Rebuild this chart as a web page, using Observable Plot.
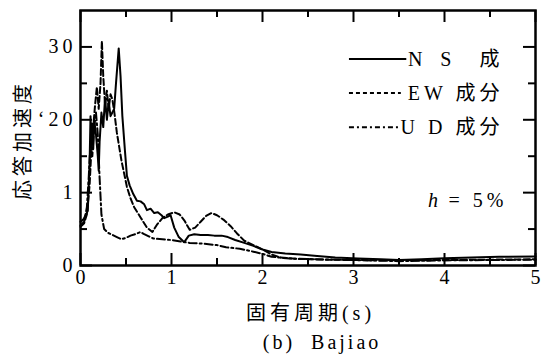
<!DOCTYPE html>
<html><head><meta charset="utf-8">
<script src="https://cdn.jsdelivr.net/npm/d3@7"></script>
<script src="https://cdn.jsdelivr.net/npm/@observablehq/plot@0.6"></script>
<style>
body{margin:0;background:#fff}
</style>
</head><body><div id="chart"></div>
<script>
// NS component
const nsT = [0,0.03,0.06,0.08,0.1,0.11,0.12,0.13,0.14,0.15,0.17,0.19,0.2,0.21,0.23,0.25,0.27,0.29,0.31,0.33,0.35,0.37,0.39,0.42,0.44,0.46,0.49,0.51,0.54,0.58,0.62,0.66,0.7,0.73,0.77,0.81,0.85,0.89,0.92,0.96,0.99,1.03,1.08,1.14,1.19,1.25,1.32,1.4,1.47,1.55,1.62,1.7,1.8,1.9,2.0,2.1,2.25,2.42,2.6,2.8,3.05,3.3,3.5,3.75,4.0,4.3,4.6,5.0];
const nsA = [6.0,6.3,7.0,7.5,14,20.5,17,19.5,16,20,18,15,13,17,21,19,23,20,22.5,20.5,21,21.5,25,29.8,26,20.5,15.5,12.3,11,9.8,8.9,8.8,8.4,7.6,7.8,7.2,7.3,6.9,6.5,6.7,6.9,5.2,3.9,3.2,4.1,4.3,4.2,4.2,4.1,4.1,3.9,3.5,3.1,2.7,2.2,1.85,1.65,1.5,1.3,1.1,0.95,0.85,0.75,0.85,1.0,1.1,1.2,1.25];
// EW component
const ewT = [0,0.04,0.07,0.1,0.12,0.14,0.16,0.18,0.2,0.22,0.235,0.25,0.27,0.29,0.31,0.33,0.35,0.37,0.4,0.45,0.51,0.55,0.59,0.66,0.73,0.79,0.84,0.9,0.96,1.03,1.09,1.14,1.2,1.26,1.32,1.38,1.44,1.5,1.57,1.65,1.72,1.8,1.9,2.0,2.1,2.2,2.4,2.7,3.0,3.5,4.0,4.5,5.0];
const ewA = [5.3,5.8,7.0,11,16,19,22,24.5,21.5,25,30.8,26,22,24,21.5,23.5,22.8,21.2,18.2,14.4,10.8,9.2,8.0,6.6,5.2,4.6,5.6,6.5,7.0,7.3,7.0,6.2,4.9,5.2,6.0,6.8,7.2,6.9,6.3,5.4,4.4,3.4,2.8,2.2,1.5,1.1,0.9,0.8,0.75,0.7,0.75,0.8,0.85];
// UD component
const udT = [0,0.04,0.07,0.09,0.11,0.13,0.15,0.17,0.19,0.21,0.23,0.26,0.3,0.35,0.4,0.45,0.5,0.55,0.6,0.66,0.7,0.75,0.8,0.9,1.0,1.1,1.2,1.35,1.5,1.6,1.75,1.9,2.0,2.1,2.3,2.6,3.0,3.5,4.0,4.5,5.0];
const udA = [5.5,6.0,8.0,12,17,15,19,21,18,12,7.0,5.0,4.5,4.2,3.9,3.6,3.8,4.1,4.3,4.6,4.3,4.0,3.7,3.6,3.5,3.3,3.1,3.0,2.8,2.5,2.3,1.9,1.6,1.2,0.95,0.85,0.75,0.6,0.7,0.75,0.8];

const xTicks = [0,1,2,3,4,5];
const xTickLabels = ["0","1","2","3","4","5"];
const xMinor = [0.5,1.5,2.5,3.5,4.5];
const yTicks = [0,10,20,30];
const yTickLabels = ["0","1","\u201820","30"];
const yMinor = [5,15,25];
const legendLabels = ["N\u2002S\u3000成","EW 成分","U D 成分"];

const toPts = (T, A) => T.map((t, i) => ({t, a: A[i]}));
const ns = toPts(nsT, nsA), ew = toPts(ewT, ewA), ud = toPts(udT, udA);

const W = 455, H = 255;
const major = 12, minor = 7;
const FF = "Liberation Serif, Noto Sans CJK JP";

const chart = Plot.plot({
  width: 543, height: 356,
  marginLeft: 80, marginRight: 8, marginTop: 10, marginBottom: 91,
  style: {fontFamily: FF, fontSize: "20px", letterSpacing: "4px", color: "#000", background: "#fff"},
  x: {domain: [0, 5]},
  y: {domain: [0, 35]},
  marks: [
    Plot.line(ns, {x: "t", y: "a", stroke: "#000", strokeWidth: 2}),
    Plot.line(ew, {x: "t", y: "a", stroke: "#000", strokeWidth: 2, strokeDasharray: "6,3"}),
    Plot.line(ud, {x: "t", y: "a", stroke: "#000", strokeWidth: 2, strokeDasharray: "8,3,2,3"}),
    // inward ticks
    Plot.tickY(yTicks, {y: d => d, insetRight: W - major, stroke: "#000", strokeWidth: 2}),
    Plot.tickY(yMinor, {y: d => d, insetRight: W - minor, stroke: "#000", strokeWidth: 2}),
    Plot.tickY(yTicks, {y: d => d, insetLeft: W - major, stroke: "#000", strokeWidth: 2}),
    Plot.tickY(yMinor, {y: d => d, insetLeft: W - minor, stroke: "#000", strokeWidth: 2}),
    Plot.tickX(xTicks, {x: d => d, insetTop: H - major, stroke: "#000", strokeWidth: 2}),
    Plot.tickX(xMinor, {x: d => d, insetTop: H - minor, stroke: "#000", strokeWidth: 2}),
    Plot.tickX(xTicks, {x: d => d, insetBottom: H - major, stroke: "#000", strokeWidth: 2}),
    Plot.tickX(xMinor, {x: d => d, insetBottom: H - minor, stroke: "#000", strokeWidth: 2}),
    Plot.frame({stroke: "#000", strokeWidth: 2.5}),
    Plot.axisX({ticks: xTicks, tickSize: 0, tickPadding: 4, dx: 2, tickFormat: (d, i) => xTickLabels[i], label: null, fontFamily: FF}),
    Plot.axisY({ticks: yTicks, tickSize: 0, tickPadding: 4, tickFormat: (d, i) => yTickLabels[i], label: null, fontFamily: FF}),
    // axis titles & caption
    Plot.text(["応答加速度"], {frameAnchor: "left", textAnchor: "middle", lineAnchor: "middle", rotate: -90, dx: -57, dy: 2, fontSize: 20, fontFamily: FF}),
    Plot.text(["固有周期(s)"], {frameAnchor: "bottom", textAnchor: "middle", lineAnchor: "middle", dy: 48, dx: 2.5, fontSize: 20, fontFamily: FF}),
    Plot.text(["(b)  Bajiao"], {frameAnchor: "bottom", textAnchor: "middle", lineAnchor: "middle", dy: 77, dx: 14, fontSize: 20, fontFamily: FF}),
    // legend
    Plot.link([0], {x1: 2.95, x2: 3.58, y1: 28.33, y2: 28.33, stroke: "#000", strokeWidth: 2}),
    Plot.link([0], {x1: 2.95, x2: 3.52, y1: 23.66, y2: 23.66, stroke: "#000", strokeWidth: 2, strokeDasharray: "4,3"}),
    Plot.link([0], {x1: 2.95, x2: 3.52, y1: 18.98, y2: 18.98, stroke: "#000", strokeWidth: 2, strokeDasharray: "5,3,2,3"}),
    Plot.text(legendLabels, {x: 4.648, y: (d, i) => [28.33, 23.66, 18.98][i], text: d => d, textAnchor: "end", fontSize: 20, fontFamily: FF}),
    Plot.text(["h"], {x: 3.82, y: 8.94, textAnchor: "start", fontStyle: "italic", fontSize: 20, fontFamily: FF}),
    Plot.text(["= 5%"], {x: 4.692, y: 8.94, textAnchor: "end", fontSize: 20, fontFamily: FF})
  ]
});
// caption uses slightly tighter spacing
d3.select(chart).selectAll("text").filter(function() { return this.textContent === "(b)  Bajiao"; }).style("letter-spacing", "3px").style("white-space", "pre");
document.getElementById("chart").appendChild(chart);
</script>
</body></html>
